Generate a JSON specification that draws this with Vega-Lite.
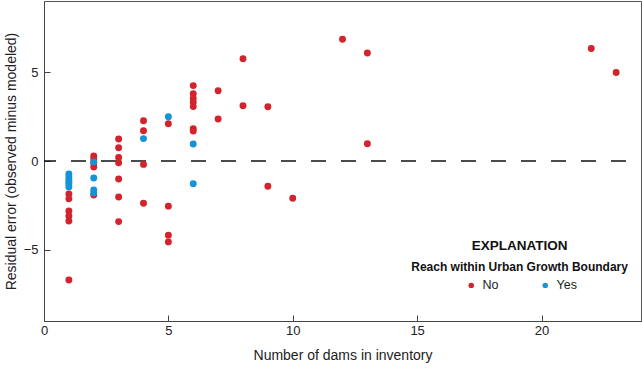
{
  "$schema": "https://vega.github.io/schema/vega-lite/v6.json",
  "width": 597,
  "height": 320,
  "autosize": {"type": "none"},
  "padding": {"left": 44, "top": 1, "right": 1, "bottom": 47},
  "background": "white",
  "config": {
    "font": "Liberation Sans, Arial, sans-serif",
    "view": {"stroke": "#555", "strokeWidth": 1},
    "axis": {
      "grid": false,
      "domainColor": "#444",
      "tickColor": "#444",
      "labelColor": "#222",
      "titleColor": "#222",
      "labelFontSize": 13,
      "titleFontSize": 14,
      "titleFontWeight": "normal",
      "tickSize": -6,
      "labelPadding": 12
    }
  },
  "data": {
    "values": [
      {"n": 1, "r": -1.85, "ugb": "No"},
      {"n": 1, "r": -2.13, "ugb": "No"},
      {"n": 1, "r": -2.81, "ugb": "No"},
      {"n": 1, "r": -3.09, "ugb": "No"},
      {"n": 1, "r": -3.37, "ugb": "No"},
      {"n": 1, "r": -6.69, "ugb": "No"},
      {"n": 2, "r": 0.28, "ugb": "No"},
      {"n": 2, "r": 0.11, "ugb": "No"},
      {"n": 2, "r": -0.11, "ugb": "No"},
      {"n": 2, "r": -0.34, "ugb": "No"},
      {"n": 2, "r": -1.91, "ugb": "No"},
      {"n": 3, "r": 1.24, "ugb": "No"},
      {"n": 3, "r": 0.75, "ugb": "No"},
      {"n": 3, "r": 0.2, "ugb": "No"},
      {"n": 3, "r": -0.1, "ugb": "No"},
      {"n": 3, "r": -1.01, "ugb": "No"},
      {"n": 3, "r": -2.02, "ugb": "No"},
      {"n": 3, "r": -3.41, "ugb": "No"},
      {"n": 4, "r": 2.26, "ugb": "No"},
      {"n": 4, "r": 1.7, "ugb": "No"},
      {"n": 4, "r": -0.19, "ugb": "No"},
      {"n": 4, "r": -2.38, "ugb": "No"},
      {"n": 5, "r": 2.1, "ugb": "No"},
      {"n": 5, "r": -2.54, "ugb": "No"},
      {"n": 5, "r": -4.17, "ugb": "No"},
      {"n": 5, "r": -4.55, "ugb": "No"},
      {"n": 6, "r": 4.24, "ugb": "No"},
      {"n": 6, "r": 3.78, "ugb": "No"},
      {"n": 6, "r": 3.52, "ugb": "No"},
      {"n": 6, "r": 3.3, "ugb": "No"},
      {"n": 6, "r": 3.06, "ugb": "No"},
      {"n": 6, "r": 1.81, "ugb": "No"},
      {"n": 6, "r": 1.69, "ugb": "No"},
      {"n": 7, "r": 3.95, "ugb": "No"},
      {"n": 7, "r": 2.36, "ugb": "No"},
      {"n": 8, "r": 5.75, "ugb": "No"},
      {"n": 8, "r": 3.11, "ugb": "No"},
      {"n": 9, "r": 3.05, "ugb": "No"},
      {"n": 9, "r": -1.42, "ugb": "No"},
      {"n": 10, "r": -2.1, "ugb": "No"},
      {"n": 12, "r": 6.85, "ugb": "No"},
      {"n": 13, "r": 6.07, "ugb": "No"},
      {"n": 13, "r": 0.97, "ugb": "No"},
      {"n": 22, "r": 6.33, "ugb": "No"},
      {"n": 23, "r": 4.98, "ugb": "No"},
      {"n": 1, "r": -0.73, "ugb": "Yes"},
      {"n": 1, "r": -0.9, "ugb": "Yes"},
      {"n": 1, "r": -1.07, "ugb": "Yes"},
      {"n": 1, "r": -1.18, "ugb": "Yes"},
      {"n": 1, "r": -1.29, "ugb": "Yes"},
      {"n": 1, "r": -1.46, "ugb": "Yes"},
      {"n": 2, "r": -0.05, "ugb": "Yes"},
      {"n": 2, "r": -0.96, "ugb": "Yes"},
      {"n": 2, "r": -1.63, "ugb": "Yes"},
      {"n": 2, "r": -1.8, "ugb": "Yes"},
      {"n": 4, "r": 1.26, "ugb": "Yes"},
      {"n": 5, "r": 2.49, "ugb": "Yes"},
      {"n": 6, "r": 0.96, "ugb": "Yes"},
      {"n": 6, "r": -1.28, "ugb": "Yes"}
    ]
  },
  "layer": [
    {
      "data": {"values": [{}]},
      "mark": {"type": "rule", "color": "#111", "strokeWidth": 1.3, "strokeDash": [15, 15], "strokeDashOffset": 3},
      "encoding": {
        "y": {"datum": 0, "type": "quantitative"},
        "x": {"datum": 0, "type": "quantitative"},
        "x2": {"datum": 24}
      }
    },
    {
      "mark": {"type": "circle", "size": 48, "opacity": 1},
      "encoding": {
        "x": {
          "field": "n", "type": "quantitative",
          "scale": {"domain": [0, 24], "nice": false, "zero": false},
          "axis": {"values": [0, 5, 10, 15, 20], "title": "Number of dams in inventory", "titlePadding": 11, "labelPadding": 9, "labelFlush": false}
        },
        "y": {
          "field": "r", "type": "quantitative",
          "scale": {"domain": [-9, 9], "nice": false},
          "axis": {"values": [-5, 0, 5], "title": "Residual error (observed minus modeled)", "titlePadding": 5}
        },
        "color": {
          "field": "ugb", "type": "nominal",
          "scale": {"domain": ["No", "Yes"], "range": ["#d3232c", "#1593d8"]},
          "legend": {
            "title": null,
            "orient": "none",
            "legendX": 421,
            "legendY": 278,
            "direction": "horizontal",
            "columns": 2,
            "columnPadding": 40,
            "padding": 0,
            "symbolType": "circle",
            "symbolSize": 30,
            "symbolOpacity": 1,
            "labelFontSize": 12.5,
            "labelColor": "#222",
            "labelOffset": 5
          }
        }
      }
    },
    {
      "data": {"values": [{}]},
      "mark": {"type": "text", "text": "EXPLANATION", "fontSize": 13.5, "fontWeight": "bold", "color": "#111", "align": "center", "baseline": "middle"},
      "encoding": {
        "x": {"datum": 19.12, "type": "quantitative"},
        "y": {"datum": -4.78, "type": "quantitative"}
      }
    },
    {
      "data": {"values": [{}]},
      "mark": {"type": "text", "text": "Reach within Urban Growth Boundary", "fontSize": 12, "fontWeight": "bold", "color": "#111", "align": "center", "baseline": "middle"},
      "encoding": {
        "x": {"datum": 19.12, "type": "quantitative"},
        "y": {"datum": -5.96, "type": "quantitative"}
      }
    }
  ]
}
